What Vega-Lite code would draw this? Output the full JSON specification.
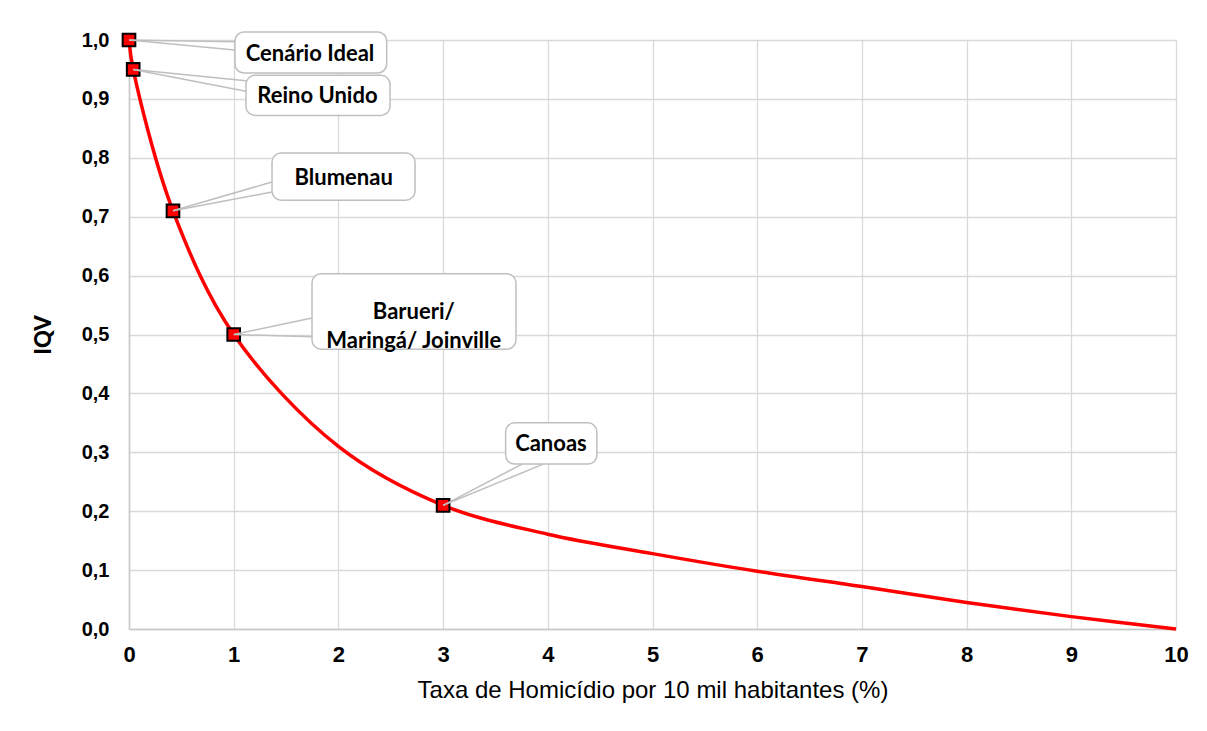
{
  "$schema": "https://vega.github.io/schema/vega-lite/v6.json",
  "width": 1047,
  "height": 589,
  "autosize": "none",
  "padding": {"left": 129, "top": 40, "right": 31, "bottom": 102},
  "background": "white",
  "config": {
    "view": {"stroke": null},
    "axis": {
      "grid": true,
      "gridColor": "#d9d9d9",
      "gridWidth": 1.3,
      "domainColor": "#c8c8c8",
      "domainWidth": 1.5,
      "ticks": false,
      "labelFont": "Liberation Sans",
      "labelFontWeight": "bold",
      "labelFontSize": 20,
      "labelColor": "#000000",
      "labelFlush": false,
      "titleColor": "#000000",
      "titleFont": "Liberation Sans"
    }
  },
  "datasets": {
    "curve": [
      {"taxa": 0, "iqv": 1.0, "marcado": true},
      {"taxa": 0.04, "iqv": 0.95, "marcado": true},
      {"taxa": 0.42, "iqv": 0.71, "marcado": true},
      {"taxa": 1, "iqv": 0.5, "marcado": true},
      {"taxa": 2, "iqv": 0.31, "marcado": false},
      {"taxa": 3, "iqv": 0.21, "marcado": true},
      {"taxa": 4, "iqv": 0.161, "marcado": false},
      {"taxa": 5, "iqv": 0.128, "marcado": false},
      {"taxa": 6, "iqv": 0.098, "marcado": false},
      {"taxa": 7, "iqv": 0.072, "marcado": false},
      {"taxa": 8, "iqv": 0.045, "marcado": false},
      {"taxa": 9, "iqv": 0.021, "marcado": false},
      {"taxa": 10, "iqv": 0.0, "marcado": false}
    ],
    "callouts": [
      {"label": "Cenário Ideal", "px": 0, "py": 1.0, "bx1": 1.012, "bx2": 2.461, "by1": 1.0136, "by2": 0.944, "tx": 1.729, "ty": 0.977, "w1x": 1.012, "w1y": 0.997, "w2x": 1.012, "w2y": 0.983},
      {"label": "Reino Unido", "px": 0.04, "py": 0.95, "bx1": 1.117, "bx2": 2.493, "by1": 0.94, "by2": 0.872, "tx": 1.80, "ty": 0.905, "w1x": 1.117, "w1y": 0.931, "w2x": 1.117, "w2y": 0.913},
      {"label": "Blumenau", "px": 0.42, "py": 0.71, "bx1": 1.366, "bx2": 2.732, "by1": 0.808, "by2": 0.728, "tx": 2.05, "ty": 0.766, "w1x": 1.366, "w1y": 0.759, "w2x": 1.366, "w2y": 0.742},
      {"label": "Barueri/\nMaringá/ Joinville", "px": 1, "py": 0.5, "bx1": 1.748, "bx2": 3.696, "by1": 0.603, "by2": 0.475, "tx": 2.72, "ty": 0.538, "w1x": 1.748, "w1y": 0.528, "w2x": 1.748, "w2y": 0.496},
      {"label": "Canoas", "px": 3, "py": 0.21, "bx1": 3.597, "bx2": 4.469, "by1": 0.35, "by2": 0.28, "tx": 4.03, "ty": 0.314, "w1x": 3.755, "w1y": 0.28, "w2x": 3.956, "w2y": 0.28}
    ]
  },
  "layer": [
    {
      "data": {"name": "curve"},
      "mark": {"type": "line", "color": "#ff0000", "strokeWidth": 3.5, "interpolate": "catmull-rom"},
      "encoding": {
        "x": {
          "field": "taxa", "type": "quantitative",
          "scale": {"domain": [0, 10], "nice": false},
          "axis": {
            "values": [0, 1, 2, 3, 4, 5, 6, 7, 8, 9, 10],
            "format": "d",
            "labelFontSize": 22,
            "labelPadding": 15,
            "title": "Taxa de Homicídio por 10 mil habitantes (%)",
            "titleFontSize": 24,
            "titleFontWeight": "normal",
            "titlePadding": 13
          }
        },
        "y": {
          "field": "iqv", "type": "quantitative",
          "scale": {"domain": [0, 1], "nice": false},
          "axis": {
            "values": [0, 0.1, 0.2, 0.3, 0.4, 0.5, 0.6, 0.7, 0.8, 0.9, 1.0],
            "labelExpr": "replace(format(datum.value, '.1f'), '.', ',')",
            "labelPadding": 20,
            "title": "IQV",
            "titleFont": "Lato",
            "titleFontSize": 22,
            "titleFontWeight": "900",
            "titlePadding": 26
          }
        }
      }
    },
    {
      "data": {"name": "curve"},
      "transform": [{"filter": "datum.marcado"}],
      "mark": {"type": "point", "shape": "square", "size": 160, "filled": true, "fill": "#ff0000", "stroke": "#000000", "strokeWidth": 2, "opacity": 1},
      "encoding": {
        "x": {"field": "taxa", "type": "quantitative"},
        "y": {"field": "iqv", "type": "quantitative"}
      }
    },
    {
      "data": {"name": "callouts"},
      "mark": {"type": "rule", "color": "#bfbfbf", "strokeWidth": 1.5},
      "encoding": {
        "x": {"field": "px", "type": "quantitative"},
        "y": {"field": "py", "type": "quantitative"},
        "x2": {"field": "w1x"},
        "y2": {"field": "w1y"}
      }
    },
    {
      "data": {"name": "callouts"},
      "mark": {"type": "rule", "color": "#bfbfbf", "strokeWidth": 1.5},
      "encoding": {
        "x": {"field": "px", "type": "quantitative"},
        "y": {"field": "py", "type": "quantitative"},
        "x2": {"field": "w2x"},
        "y2": {"field": "w2y"}
      }
    },
    {
      "data": {"name": "callouts"},
      "mark": {"type": "rect", "fill": "#ffffff", "stroke": "#bfbfbf", "strokeWidth": 1.5, "cornerRadius": 9},
      "encoding": {
        "x": {"field": "bx1", "type": "quantitative"},
        "x2": {"field": "bx2"},
        "y": {"field": "by1", "type": "quantitative"},
        "y2": {"field": "by2"}
      }
    },
    {
      "data": {"name": "callouts"},
      "mark": {"type": "text", "font": "Lato", "fontWeight": "bold", "fontSize": 22, "color": "#000000", "align": "center", "baseline": "middle", "lineBreak": "\n", "lineHeight": 29},
      "encoding": {
        "x": {"field": "tx", "type": "quantitative"},
        "y": {"field": "ty", "type": "quantitative"},
        "text": {"field": "label", "type": "nominal"}
      }
    }
  ]
}
